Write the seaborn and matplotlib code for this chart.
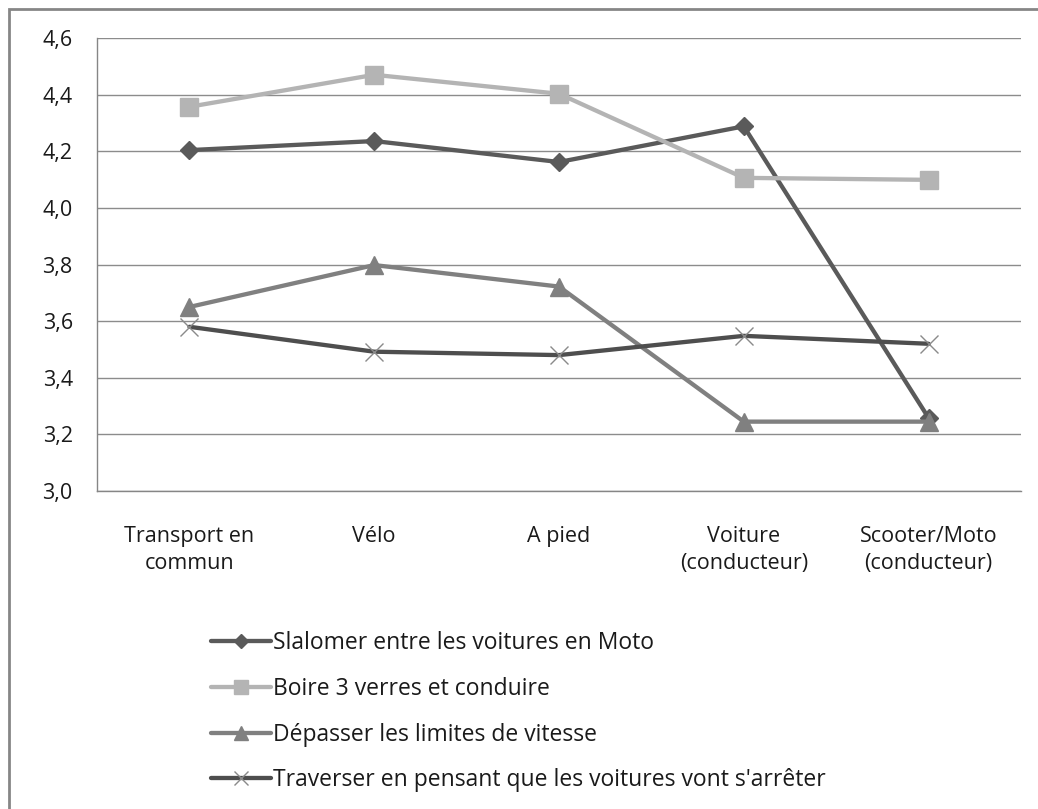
import matplotlib
matplotlib.use("Agg")
import matplotlib.pyplot as plt
from matplotlib.lines import Line2D
from matplotlib.patches import Rectangle
import numpy as np
import pandas as pd
import seaborn as sns

categories = ["Transport en\ncommun", "Vélo", "A pied", "Voiture\n(conducteur)", "Scooter/Moto\n(conducteur)"]

slalomer = [4.204, 4.236, 4.162, 4.288, 3.258]
boire = [4.357, 4.470, 4.403, 4.106, 4.099]
depasser = [3.650, 3.798, 3.722, 3.245, 3.245]
traverser = [3.580, 3.492, 3.480, 3.548, 3.520]

series_names = [
    "Slalomer entre les voitures en Moto",
    "Boire 3 verres et conduire",
    "Dépasser les limites de vitesse",
    "Traverser en pensant que les voitures vont s'arrêter",
]
y_ticks = [3.0, 3.2, 3.4, 3.6, 3.8, 4.0, 4.2, 4.4, 4.6]

sns.set_theme(style="white")
plt.rcParams["font.family"] = ["Open Sans", "DejaVu Sans"]
FS = 15.5
FS_LEG = 16.5

# line colour, marker, marker size, marker face, marker edge colour, marker edge width
styles = [
    ("#5a5a5a", "D", 9.5, "#5a5a5a", "#5a5a5a", 1.0),
    ("#b4b4b4", "s", 12.5, "#b4b4b4", "#b4b4b4", 1.0),
    ("#808080", "^", 13, "#808080", "#808080", 1.0),
    ("#4e4e4e", "x", 13, "none", "#8a8a8a", 1.0),
]

fig = plt.figure(figsize=(10.38, 8.09), dpi=100)
fig.patch.set_facecolor("white")
ax = fig.add_axes([97 / 1038, 1 - 491 / 809, (1021 - 97) / 1038, (491 - 38) / 809])

frames = []
for name, vals in zip(series_names, [slalomer, boire, depasser, traverser]):
    frames.append(pd.DataFrame({"pos": np.arange(len(categories)), "value": vals, "serie": name}))
df = pd.concat(frames, ignore_index=True)

handles = []
for name, (col, mk, ms, mfc, mec, mew) in zip(series_names, styles):
    sub = df[df["serie"] == name]
    sns.lineplot(data=sub, x="pos", y="value", ax=ax, color=col, linewidth=3.1,
                 marker=mk, markersize=ms, markerfacecolor=mfc, markeredgecolor=mec,
                 markeredgewidth=mew, legend=False, zorder=3)
    handles.append(Line2D([], [], color=col, linewidth=3.1, marker=mk, markersize=ms * 0.75,
                          markerfacecolor=mfc, markeredgecolor=mec, markeredgewidth=mew,
                          label=name))

ax.set_xlim(-0.5, len(categories) - 0.5)
ax.set_ylim(3.0, 4.6)
ax.set_yticks(y_ticks)
ax.set_yticklabels([f"{v:.1f}".replace(".", ",") for v in y_ticks], fontsize=FS, color="#1a1a1a")
ax.set_xticks(np.arange(len(categories)))
ax.set_xticklabels(categories, fontsize=FS, color="#1a1a1a", linespacing=1.42)
ax.set_xticks(np.arange(-0.5, len(categories)), minor=True)
ax.tick_params(axis="x", which="major", length=0, pad=25)
ax.tick_params(axis="x", which="minor", length=6.5, width=1, color="#868686", direction="out")
ax.tick_params(axis="y", length=6.5, width=1, color="#868686", direction="out", pad=11)
ax.set_xlabel("")
ax.set_ylabel("")

ax.grid(axis="y", color="#8c8c8c", linewidth=1.0, zorder=0)
ax.grid(axis="x", visible=False)
for side in ("top", "right"):
    ax.spines[side].set_visible(False)
for side in ("left", "bottom"):
    ax.spines[side].set_color("#868686")
    ax.spines[side].set_linewidth(1.0)
ax.set_facecolor("white")

leg = fig.legend(handles=handles, loc="upper left", bbox_to_anchor=(202 / 1038, 1 - 622 / 809),
                 frameon=False, fontsize=FS_LEG, handlelength=2.6, handletextpad=0.1,
                 labelspacing=0.95, borderaxespad=0)
for t in leg.get_texts():
    t.set_color("#1a1a1a")

# outer chart frame
fig.patches.append(Rectangle((9 / 1038, -0.05), 1.1, 1 - 9 / 809 + 0.05, transform=fig.transFigure,
                             fill=False, edgecolor="#868686", linewidth=2.0, zorder=10))

fig.savefig("out.png", dpi=100, facecolor="white")
